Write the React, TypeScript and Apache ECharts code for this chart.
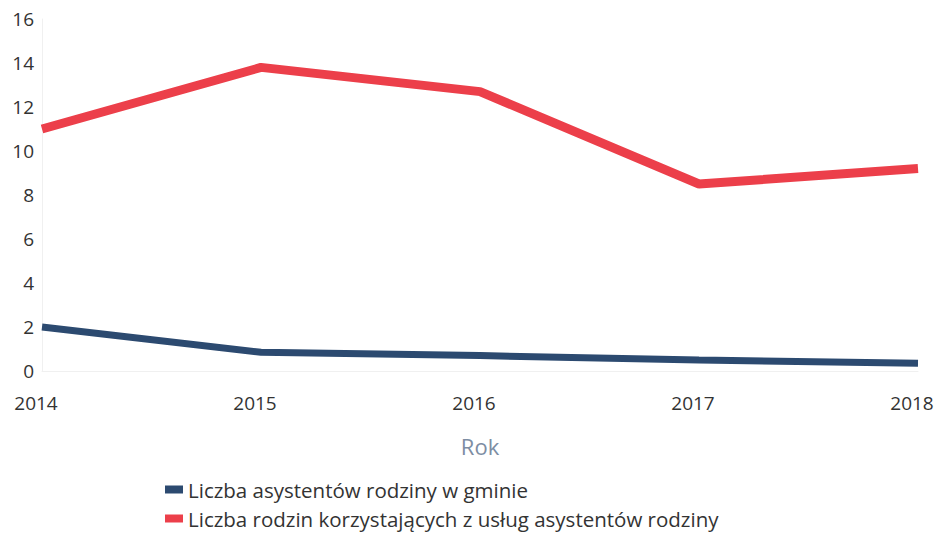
import React, { useEffect, useRef } from "react";
import * as echarts from "echarts";

const years = ["2014", "2015", "2016", "2017", "2018"];
const assistants = [2.0, 0.85, 0.7, 0.5, 0.35];
const families = [11.0, 13.8, 12.7, 8.5, 9.2];
const seriesNames = [
  "Liczba asystentów rodziny w gminie",
  "Liczba rodzin korzystających z usług asystentów rodziny",
];
const yTicks = { min: 0, max: 16, interval: 2 };

export default function App() {
  const ref = useRef<HTMLDivElement>(null);
  useEffect(() => {
    if (!ref.current) return;
    const chart = echarts.init(ref.current, undefined, { renderer: "svg" });
    const font = "'Open Sans', 'Noto Sans', sans-serif";
    const legendBase = {
      orient: "vertical",
      left: 165,
      itemWidth: 18,
      itemHeight: 8,
      icon: "rect",
      padding: 0,
      textStyle: { color: "#333333", fontSize: 20.5, fontFamily: font },
    };
    chart.setOption({
      animation: false,
      backgroundColor: "#ffffff",
      textStyle: { fontFamily: font },
      grid: { left: 42, right: 22, top: 19, bottom: 162, containLabel: false },
      xAxis: {
        type: "category",
        data: years,
        boundaryGap: false,
        name: "Rok",
        nameLocation: "middle",
        nameGap: 64,
        nameTextStyle: { color: "#7d8da3", fontSize: 22, fontFamily: font },
        axisLine: { show: true, lineStyle: { color: "#f0f0f0", width: 1 } },
        axisTick: { show: false },
        axisLabel: {
          color: "#333333",
          fontSize: 19,
          margin: 22,
          fontFamily: font,
          padding: [0, 12, 0, 0],
        },
        splitLine: { show: false },
      },
      yAxis: {
        type: "value",
        min: yTicks.min,
        max: yTicks.max,
        interval: yTicks.interval,
        axisLine: { show: true, lineStyle: { color: "#f0f0f0", width: 1 } },
        axisTick: { show: false },
        axisLabel: { color: "#333333", fontSize: 19, margin: 8, fontFamily: font },
        splitLine: { show: false },
      },
      legend: [
        { ...legendBase, top: 479, data: [seriesNames[0]] },
        { ...legendBase, top: 508, data: [seriesNames[1]] },
      ],
      series: [
        {
          name: seriesNames[0],
          type: "line",
          data: assistants,
          showSymbol: false,
          symbol: "none",
          color: "#2c4a70",
          lineStyle: { color: "#2c4a70", width: 7 },
        },
        {
          name: seriesNames[1],
          type: "line",
          data: families,
          showSymbol: false,
          symbol: "none",
          color: "#ec3f4a",
          lineStyle: { color: "#ec3f4a", width: 9 },
        },
      ],
    });
    return () => chart.dispose();
  }, []);
  return (
    <div
      ref={ref}
      style={{ position: "fixed", left: 0, top: 0, width: 940, height: 533 }}
    />
  );
}
